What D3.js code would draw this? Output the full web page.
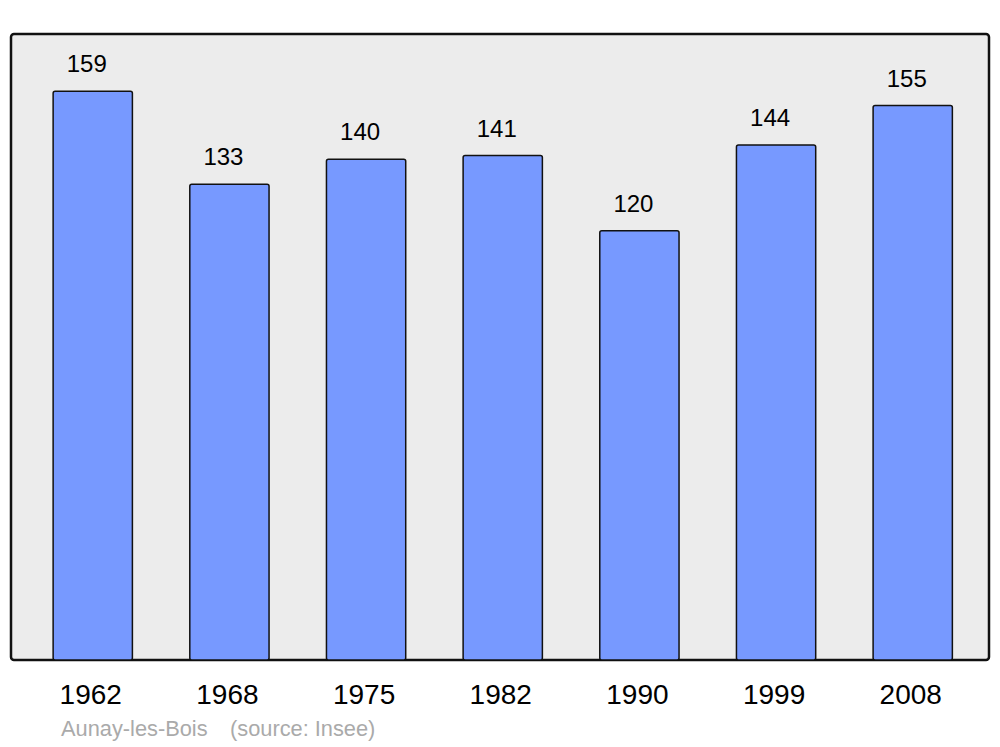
<!DOCTYPE html>
<html><head><meta charset="utf-8">
<script src="https://cdn.jsdelivr.net/npm/d3@7"></script>
<style>body{margin:0;background:#fff}svg{display:block}</style>
</head><body>
<svg id="c" width="1000" height="747"></svg>
<script>
const years = ["1962","1968","1975","1982","1990","1999","2008"];
const population = [159,133,140,141,120,144,155];
const caption = "Aunay-les-Bois";
const source = "(source: Insee)";

const svg = d3.select("#c");
const panel = {x0: 11, y0: 34, x1: 989, y1: 660};
svg.append("rect").attr("x", panel.x0).attr("y", panel.y0)
  .attr("width", panel.x1 - panel.x0).attr("height", panel.y1 - panel.y0)
  .attr("rx", 3).attr("fill", "#ececec").attr("stroke", "#111").attr("stroke-width", 2.5);

const x = d3.scaleBand().domain(years).range([13.5, 992]).paddingInner(0.42).paddingOuter(0.29);
const y = d3.scaleLinear().domain([0, 175]).range([panel.y1, panel.y0]);

svg.selectAll("rect.bar").data(population).join("rect").attr("class", "bar")
  .attr("x", (d, i) => x(years[i])).attr("width", x.bandwidth())
  .attr("y", d => y(d)).attr("height", d => y(0) - y(d))
  .attr("rx", 2).attr("fill", "#7799ff").attr("stroke", "#111").attr("stroke-width", 1.5);

svg.selectAll("text.val").data(population).join("text").attr("class", "val")
  .attr("x", (d, i) => x(years[i]) + x.bandwidth() / 2 - 6)
  .attr("y", d => y(d) - 19)
  .attr("text-anchor", "middle").attr("font-family", "Liberation Sans, Arial, sans-serif")
  .attr("font-size", 24).attr("fill", "#000").text(d => d);

const axis = d3.axisBottom(x).tickSize(0).tickPadding(0);
const g = svg.append("g").attr("transform", `translate(0,${panel.y1})`).call(axis);
g.select(".domain").remove();
g.selectAll("text").attr("dy", null).attr("y", 44).attr("dx", -2)
  .attr("font-family", "Liberation Sans, Arial, sans-serif").attr("font-size", 28).attr("fill", "#000");

svg.append("text").attr("x", 61).attr("y", 736).attr("font-family", "Liberation Sans, Arial, sans-serif")
  .attr("font-size", 21.8).attr("fill", "#aaaaaa").text(caption);
svg.append("text").attr("x", 230).attr("y", 736).attr("font-family", "Liberation Sans, Arial, sans-serif")
  .attr("font-size", 21.8).attr("fill", "#aaaaaa").text(source);
</script>
</body></html>
